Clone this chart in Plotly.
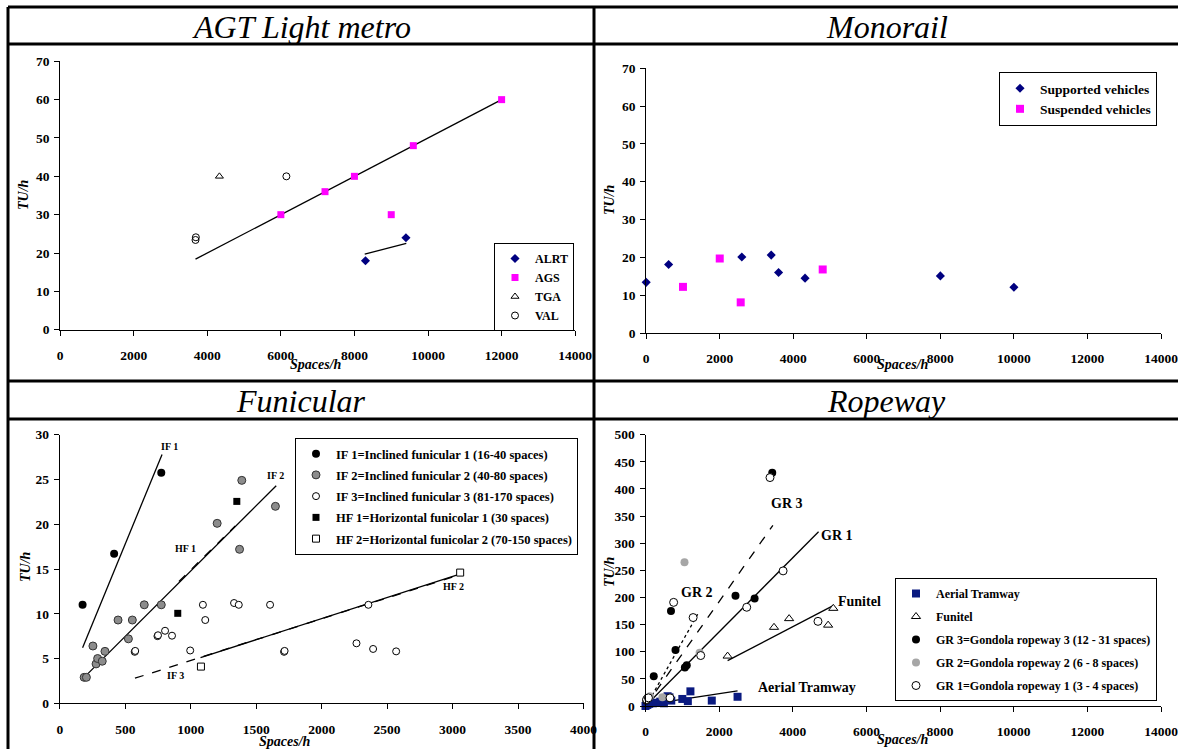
import plotly.graph_objects as go

W, H = 1178, 749
SERIF = "Liberation Serif"

# ---------------- AGT Light metro ----------------
alrt_x = [8300, 9400]
alrt_y = [18, 24]
ags_x = [6000, 7200, 8000, 9600, 12000, 9000]
ags_y = [30, 36, 40, 48, 60, 30]
tga_x = [4330]
tga_y = [40]
val_x = [3680, 3690, 6150]
val_y = [23.4, 24.1, 40]
agt_fit_x = [3680, 12000]
agt_fit_y = [18.4, 60]
alrt_fit_x = [8280, 9410]
alrt_fit_y = [19.7, 22.5]

# ---------------- Monorail ----------------
sup_x = [0, 610, 2600, 3400, 3600, 4320, 8000, 10000]
sup_y = [13.4, 18.1, 20.1, 20.6, 16.0, 14.5, 15.1, 12.1]
susp_x = [1000, 2000, 2570, 4800]
susp_y = [12.2, 19.7, 8.1, 16.8]

# ---------------- Funicular ----------------
if1_x = [174, 415, 775]
if1_y = [11.0, 16.7, 25.75]
if2_x = [186, 203, 253, 277, 289, 324, 345, 445, 524, 554, 645, 775, 1202, 1373, 1390, 1647]
if2_y = [2.9, 2.9, 6.4, 4.4, 5.0, 4.7, 5.8, 9.3, 7.2, 9.3, 11.0, 11.0, 20.1, 17.2, 24.9, 22.0]
if3_x = [572, 576, 746, 750, 804, 857, 996, 1093, 1111, 1331, 1367, 1606, 1713, 1717, 2266, 2357, 2393, 2569]
if3_y = [5.75, 5.85, 7.5, 7.6, 8.1, 7.55, 5.9, 11.0, 9.3, 11.2, 11.0, 11.0, 5.75, 5.85, 6.7, 11.0, 6.07, 5.8]
hf1_x = [901, 1352]
hf1_y = [10.05, 22.55]
hf2_x = [1078, 3058]
hf2_y = [4.1, 14.6]
if1_fit_x = [174, 781]
if1_fit_y = [6.2, 27.8]
if2_fit_x = [186, 1653]
if2_fit_y = [2.9, 24.3]
hf1_fit_x = [910, 1340]
hf1_fit_y = [13.6, 19.8]
if3_fit_x = [574, 3000]
if3_fit_y = [2.8, 14.1]
hf2_fit_x = [1075, 3049]
hf2_fit_y = [5.1, 14.4]

# ---------------- Ropeway ----------------
at_x = [0, 50, 100, 200, 300, 400, 500, 600, 650, 700, 1000, 1150, 1220, 1800, 2500]
at_y = [0, 2, 4, 5, 6, 8, 5, 18, 16, 10, 13, 9, 27, 10, 17]
fun_x = [2230, 3490, 3900, 4960, 5100]
fun_y = [92, 145, 161, 149, 180]
gr3_x = [20, 60, 224, 692, 815, 1069, 1120, 2444, 2963, 3442]
gr3_y = [10, 15, 55, 175, 103, 71, 75, 203, 198, 430]
gr2_x = [120, 458, 1059, 1470]
gr2_y = [18, 16, 265, 98]
gr1_x = [30, 80, 665, 764, 1293, 1500, 2749, 3381, 3737, 4684]
gr1_y = [12, 15, 15, 191, 163, 93, 182, 421, 249, 156]
at_fit_x = [0, 2500]
at_fit_y = [2, 28]
fun_fit_x = [2230, 5110]
fun_fit_y = [83.5, 185.5]
gr3_fit_x = [0, 3460]
gr3_fit_y = [0, 333]
gr2_fit_x = [100, 1450]
gr2_fit_y = [10, 173]
gr1_fit_x = [0, 4700]
gr1_fit_y = [0, 321]

fig = go.Figure()


def pts(x, y, name, ax, legend, symbol, color, size, line_color=None, line_width=0):
    fig.add_trace(go.Scatter(
        x=x, y=y, mode="markers", name=name, xaxis="x" + ax, yaxis="y" + ax,
        legend=legend, legendgroup=name, cliponaxis=False,
        marker=dict(symbol=symbol, color=color, size=size,
                    line=dict(color=line_color or color, width=line_width))))


def fit(x, y, ax, dash="solid", width=1.3):
    fig.add_trace(go.Scatter(
        x=x, y=y, mode="lines", xaxis="x" + ax, yaxis="y" + ax, showlegend=False,
        hoverinfo="skip", cliponaxis=False,
        line=dict(color="black", width=width, dash=dash)))


# AGT (axis "")
fit(agt_fit_x, agt_fit_y, "")
fit(alrt_fit_x, alrt_fit_y, "")
pts(alrt_x, alrt_y, "ALRT", "", "legend", "diamond", "#000080", 7)
pts(ags_x, ags_y, "AGS", "", "legend", "square", "#FF00FF", 7)
pts(tga_x, tga_y, "TGA", "", "legend", "triangle-up-open", "black", 7, "black", 1)
pts(val_x, val_y, "VAL", "", "legend", "circle-open", "black", 7, "black", 1)

# Monorail
pts(sup_x, sup_y, "Supported vehicles", "2", "legend2", "diamond", "#000080", 7)
pts(susp_x, susp_y, "Suspended vehicles", "2", "legend2", "square", "#FF00FF", 8)

# Funicular
fit(if1_fit_x, if1_fit_y, "3")
fit(if2_fit_x, if2_fit_y, "3")
fit(hf1_fit_x, hf1_fit_y, "3", "dash")
fit(hf2_fit_x, hf2_fit_y, "3")
fit(if3_fit_x, if3_fit_y, "3", "dash")
pts(if1_x, if1_y, "IF 1=Inclined funicular 1 (16-40 spaces)", "3", "legend3", "circle", "black", 8)
pts(if2_x, if2_y, "IF 2=Inclined funicular 2 (40-80 spaces)", "3", "legend3", "circle", "#8C8C8C", 8, "#333333", 1)
pts(if3_x, if3_y, "IF 3=Inclined funicular 3 (81-170 spaces)", "3", "legend3", "circle", "white", 7, "black", 1)
pts(hf1_x, hf1_y, "HF 1=Horizontal funicolar 1 (30 spaces)", "3", "legend3", "square", "black", 7)
pts(hf2_x, hf2_y, "HF 2=Horizontal funicolar 2 (70-150 spaces)", "3", "legend3", "square", "white", 7, "black", 1)

# Ropeway
fit(at_fit_x, at_fit_y, "4")
fit(fun_fit_x, fun_fit_y, "4")
fit(gr3_fit_x, gr3_fit_y, "4", "dash")
fit(gr2_fit_x, gr2_fit_y, "4", "dot")
fit(gr1_fit_x, gr1_fit_y, "4")
pts(at_x, at_y, "Aerial Tramway", "4", "legend4", "square", "#0A1A80", 8)
pts(fun_x, fun_y, "Funitel", "4", "legend4", "triangle-up", "white", 8, "black", 1)
pts(gr3_x, gr3_y, "GR 3=Gondola ropeway 3 (12 - 31 spaces)", "4", "legend4", "circle", "black", 8)
pts(gr2_x, gr2_y, "GR 2=Gondola ropeway 2 (6 - 8 spaces)", "4", "legend4", "circle", "#A6A6A6", 8)
pts(gr1_x, gr1_y, "GR 1=Gondola ropeway 1 (3 - 4 spaces)", "4", "legend4", "circle", "white", 8, "black", 1)

tickfont = dict(family=SERIF, size=13.5, color="black", weight="bold")


def axis(dom, rng, dtick, standoff):
    return dict(domain=dom, range=rng, dtick=dtick, showgrid=False, zeroline=False,
                showline=True, linecolor="black", linewidth=1, ticks="outside",
                ticklen=5, tickwidth=1, tickcolor="black", tickfont=tickfont,
                tickformat="d", automargin=False, ticklabeloverflow="allow",
                ticklabelstandoff=standoff, fixedrange=True)


def xd(a, b):
    return [a / W, b / W]


def yd(top, bot):
    return [1 - bot / H, 1 - top / H]


layout = dict(
    width=W, height=H, margin=dict(l=0, r=0, t=0, b=0, pad=0, autoexpand=False),
    paper_bgcolor="white", plot_bgcolor="white",
    xaxis=dict(axis(xd(60.1, 575.2), [0, 14000], 2000, 8), anchor="y"),
    yaxis=dict(axis(yd(61.3, 329.7), [0, 70], 10, 2), anchor="x"),
    xaxis2=dict(axis(xd(646.2, 1161), [0, 14000], 2000, 8), anchor="y2"),
    yaxis2=dict(axis(yd(68.3, 333), [0, 70], 10, 2), anchor="x2"),
    xaxis3=dict(axis(xd(59.8, 583.5), [0, 4000], 500, 8), anchor="y3"),
    yaxis3=dict(axis(yd(434.7, 703.3), [0, 30], 5, 2), anchor="x3"),
    xaxis4=dict(axis(xd(645.5, 1161), [0, 14000], 2000, 8), anchor="y4"),
    yaxis4=dict(axis(yd(434.7, 706), [0, 500], 50, 2), anchor="x4"),
    showlegend=True,
)

legfont = dict(family=SERIF, size=12, color="black", weight="bold")


def leg(x_right, y_top, gap, size=12):
    return dict(x=x_right / W, y=1 - y_top / H, xanchor="right", yanchor="top",
                bgcolor="white", bordercolor="black", borderwidth=1,
                font=dict(legfont, size=size), tracegroupgap=gap, itemwidth=30)


layout["legend"] = leg(574, 243, 0, 12)
layout["legend2"] = leg(1157, 72, 0, 13.5)
layout["legend3"] = leg(578, 438, 2, 12.5)
layout["legend4"] = leg(1157, 578, 4, 12)

fig.update_layout(**layout)

# Table-like frame lines
lw = 3
frame = [
    (8, 7, 1178, 7), (8, 44, 1178, 44), (8, 381, 1178, 381), (8, 419, 1178, 419),
    (8, 7, 8, 749), (594, 7, 594, 749),
]
for x0, y0, x1, y1 in frame:
    fig.add_shape(type="line", xref="paper", yref="paper",
                  x0=x0 / W, y0=1 - y0 / H, x1=x1 / W, y1=1 - y1 / H,
                  line=dict(color="black", width=lw))

ann = []


def txt(x, y, s, size, italic=False, bold=False, angle=0, ref="paper", xr=None, yr=None):
    d = dict(text=s, showarrow=False, textangle=angle, xanchor="center", yanchor="middle",
             font=dict(family=SERIF, size=size, color="black",
                       style="italic" if italic else "normal",
                       weight="bold" if bold else "normal"))
    if ref == "paper":
        d.update(xref="paper", yref="paper", x=x / W, y=1 - y / H)
    else:
        d.update(xref=xr, yref=yr, x=x, y=y)
    ann.append(d)


# Panel titles
txt(301, 27, "AGT Light metro", 32, italic=True)
txt(887, 27, "Monorail", 32, italic=True)
txt(301, 401, "Funicular", 32, italic=True)
txt(887, 401, "Ropeway", 32, italic=True)

# Axis titles
for (x, y) in [(23, 195), (609, 200), (25, 567), (609, 572)]:
    txt(x, y, "TU/h", 14, italic=True, bold=True, angle=-90)
for (x, y) in [(316, 364), (903, 364), (285, 741), (903, 739)]:
    txt(x, y, "Spaces/h", 14, italic=True, bold=True)

# Funicular in-plot labels
txt(840, 28.7, "IF 1", 10, bold=True, ref="data", xr="x3", yr="y3")
txt(1650, 25.4, "IF 2", 10, bold=True, ref="data", xr="x3", yr="y3")
txt(957, 17.3, "HF 1", 10, bold=True, ref="data", xr="x3", yr="y3")
txt(3004, 13.0, "HF 2", 10, bold=True, ref="data", xr="x3", yr="y3")
txt(884, 3.05, "IF 3", 10, bold=True, ref="data", xr="x3", yr="y3")

# Ropeway in-plot labels
txt(3839, 373, "GR 3", 14, bold=True, ref="data", xr="x4", yr="y4")
txt(5213, 314, "GR 1", 14, bold=True, ref="data", xr="x4", yr="y4")
txt(1395, 209, "GR 2", 14, bold=True, ref="data", xr="x4", yr="y4")
txt(5824, 192, "Funitel", 14, bold=True, ref="data", xr="x4", yr="y4")
txt(4399, 34, "Aerial Tramway", 14, bold=True, ref="data", xr="x4", yr="y4")

fig.update_layout(annotations=ann)

fig.write_html(
    "out.html",
    config={"displayModeBar": False},
    post_script="document.body.style.margin='0';document.body.style.overflow='hidden';",
)
